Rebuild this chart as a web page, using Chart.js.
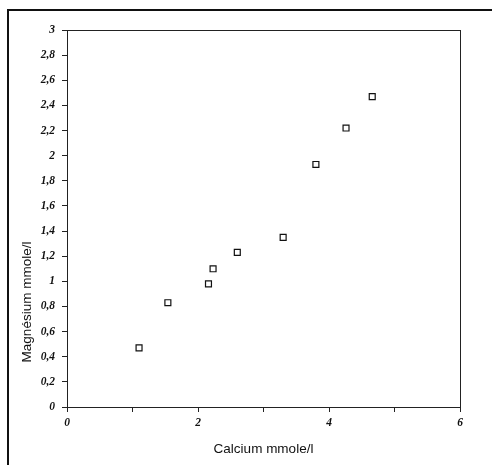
<!DOCTYPE html>
<html>
<head>
<meta charset="utf-8">
<style>
    html, body { margin: 0; padding: 0; background: #fff; }
    #wrap { position: relative; width: 492px; height: 465px; }
    #frame { position: absolute; left: 7px; top: 9px; right: 0; bottom: 0;
             border-left: 2px solid #111; border-top: 2px solid #111; }
    canvas { position: absolute; left: 0; top: 0; }
</style>
</head>
<body>
<div id="wrap">
    <div id="frame"></div>
    <canvas id="chart" width="492" height="465"></canvas>
</div>
<script src="https://cdn.jsdelivr.net/npm/chart.js@4.4.0/dist/chart.umd.min.js"></script>
<script>
    // values
    const calcium = [1.10, 1.54, 2.16, 2.23, 2.60, 3.30, 3.80, 4.26, 4.66];
    const magnesium = [0.47, 0.83, 0.98, 1.10, 1.23, 1.35, 1.93, 2.22, 2.47];
    const xTitle = 'Calcium mmole/l';
    const yTitle = 'Magnésium mmole/l';

    const points = calcium.map((c, i) => ({ x: c, y: magnesium[i] }));

    function frLabel(v) {
        const r = Math.round(v * 10) / 10;
        return String(r).replace('.', ',');
    }

    // box round the plot area + y title placed low like the original
    const boxPlugin = {
        id: 'box',
        afterDraw(chart) {
            const { ctx, chartArea } = chart;
            ctx.save();
            ctx.strokeStyle = '#222';
            ctx.lineWidth = 1;
            ctx.strokeRect(chartArea.left + 0.5, chartArea.top + 0.5,
                chartArea.right - chartArea.left, chartArea.bottom - chartArea.top);
            ctx.translate(27, 302);
            ctx.rotate(-Math.PI / 2);
            ctx.font = '13.5px "Liberation Sans", Arial, sans-serif';
            ctx.fillStyle = '#111';
            ctx.textAlign = 'center';
            ctx.textBaseline = 'middle';
            ctx.fillText(yTitle, 0, 0);
            ctx.restore();
        }
    };

    const tickFont = { family: '"Liberation Serif", "Times New Roman", serif', size: 11.5, style: 'italic', weight: 'bold' };

    new Chart(document.getElementById('chart'), {
        type: 'scatter',
        data: {
            datasets: [{
                data: points,
                pointStyle: 'rect',
                pointRadius: 4.2,
                pointHoverRadius: 4.2,
                pointBorderWidth: 1.2,
                borderColor: '#111',
                backgroundColor: '#fff'
            }]
        },
        options: {
            responsive: false,
            animation: false,
            devicePixelRatio: 1,
            layout: { padding: { left: 0, top: 30, right: 32, bottom: 8 } },
            plugins: {
                legend: { display: false },
                tooltip: { enabled: false }
            },
            scales: {
                x: {
                    type: 'linear',
                    min: 0,
                    max: 6,
                    border: { display: true, color: '#222', width: 1 },
                    grid: { display: true, drawOnChartArea: false, drawTicks: true, tickLength: 5, color: '#222' },
                    ticks: {
                        stepSize: 1,
                        color: '#111',
                        font: tickFont,
                        padding: 4,
                        autoSkip: false,
                        maxRotation: 0,
                        callback: v => (v % 2 === 0 ? String(v) : '')
                    },
                    title: {
                        display: true,
                        text: xTitle,
                        color: '#111',
                        font: { family: '"Liberation Sans", Arial, sans-serif', size: 13.5 },
                        padding: { top: 8, bottom: 0 }
                    },
                    afterFit(scale) { scale.height = 50; }
                },
                y: {
                    type: 'linear',
                    min: 0,
                    max: 3,
                    border: { display: true, color: '#222', width: 1 },
                    grid: { display: true, drawOnChartArea: false, drawTicks: true, tickLength: 5, color: '#222' },
                    ticks: {
                        stepSize: 0.2,
                        color: '#111',
                        font: tickFont,
                        padding: 7,
                        autoSkip: false,
                        callback: v => frLabel(v)
                    },
                    afterFit(scale) { scale.width = 67; }
                }
            }
        },
        plugins: [boxPlugin]
    });
</script>
</body>
</html>
